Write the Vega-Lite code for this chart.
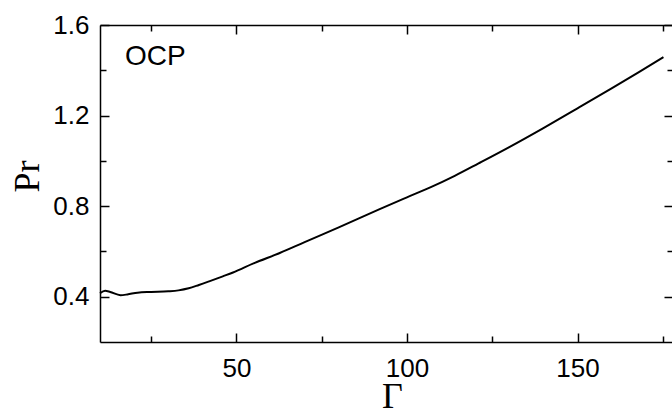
{
  "$schema": "https://vega.github.io/schema/vega-lite/v6.json",
  "autosize": "none",
  "width": 573,
  "height": 317,
  "padding": {"left": 100, "top": 25, "right": 0, "bottom": 67},
  "background": "white",
  "config": {
    "view": {"stroke": null},
    "axis": {"grid": false, "domainColor": "black", "domainWidth": 1.5, "tickColor": "black", "tickWidth": 1.5, "labelFont": "Liberation Sans", "labelFontSize": 26, "labelColor": "black", "titleColor": "black"}
  },
  "datasets": {
    "curve": [
      {"g": 10, "pr": 0.415},
      {"g": 11.5, "pr": 0.426},
      {"g": 13, "pr": 0.421},
      {"g": 16, "pr": 0.407},
      {"g": 18, "pr": 0.41},
      {"g": 21, "pr": 0.418},
      {"g": 25, "pr": 0.421},
      {"g": 30, "pr": 0.424},
      {"g": 33, "pr": 0.428},
      {"g": 36, "pr": 0.437},
      {"g": 39, "pr": 0.452},
      {"g": 42, "pr": 0.468},
      {"g": 46, "pr": 0.49},
      {"g": 49, "pr": 0.507},
      {"g": 55, "pr": 0.547},
      {"g": 62.7, "pr": 0.593},
      {"g": 70, "pr": 0.641},
      {"g": 80, "pr": 0.706},
      {"g": 92, "pr": 0.787},
      {"g": 100, "pr": 0.839},
      {"g": 107, "pr": 0.884},
      {"g": 114, "pr": 0.934},
      {"g": 121, "pr": 0.989},
      {"g": 130, "pr": 1.061},
      {"g": 140, "pr": 1.145},
      {"g": 150, "pr": 1.232},
      {"g": 160, "pr": 1.32},
      {"g": 168, "pr": 1.392},
      {"g": 175.2, "pr": 1.458}
    ],
    "label": [{"g": 17.3, "pr": 1.457, "text": "OCP"}]
  },
  "layer": [
    {
      "data": {"name": "curve"},
      "mark": {"type": "line", "color": "black", "strokeWidth": 2, "interpolate": "monotone"},
      "encoding": {
        "x": {"field": "g", "type": "quantitative", "scale": {"domain": [10, 178], "nice": false, "zero": false},
          "axis": {"orient": "bottom", "values": [25, 50, 75, 100, 125, 150, 175],
            "tickSize": {"condition": {"test": "datum.value % 50 == 0", "value": -9}, "value": -6},
            "labelExpr": "datum.value % 50 == 0 ? datum.label : ''",
            "labelPadding": 22, "labelFlush": false,
            "title": "Γ", "titleFont": "Liberation Serif", "titleFontSize": 36, "titleFontWeight": "normal",
            "titleX": 292, "titleY": 65, "titleBaseline": "alphabetic", "titleAlign": "center"}},
        "y": {"field": "pr", "type": "quantitative", "scale": {"domain": [0.2, 1.6], "nice": false, "zero": false},
          "axis": {"orient": "left", "values": [0.4, 0.6, 0.8, 1.0, 1.2, 1.4, 1.6],
            "tickSize": {"condition": {"test": "indexof([0.4,0.8,1.2,1.6], datum.value) >= 0", "value": -9}, "value": -6},
            "labelExpr": "indexof([0.4,0.8,1.2,1.6], datum.value) >= 0 ? format(datum.value, '.1f') : ''",
            "labelPadding": 20, "labelFlush": false,
            "title": "Pr", "titleFont": "Liberation Serif", "titleFontSize": 36, "titleFontWeight": "normal",
            "titleX": -73, "titleY": 151, "titleAngle": -90, "titleAlign": "center", "titleBaseline": "middle"}}
      }
    },
    {
      "data": {"name": "label"},
      "mark": {"type": "text", "align": "left", "baseline": "middle", "font": "Liberation Sans", "fontSize": 28, "color": "black"},
      "encoding": {
        "x": {"field": "g", "type": "quantitative",
          "axis": {"orient": "top", "values": [25, 50, 75, 100, 125, 150, 175],
            "tickSize": {"condition": {"test": "datum.value % 50 == 0", "value": -9}, "value": -6},
            "labels": false, "title": null}},
        "y": {"field": "pr", "type": "quantitative",
          "axis": {"orient": "right", "values": [0.4, 0.6, 0.8, 1.0, 1.2, 1.4, 1.6],
            "tickSize": {"condition": {"test": "indexof([0.4,0.8,1.2,1.6], datum.value) >= 0", "value": -9}, "value": -6},
            "labels": false, "title": null}},
        "text": {"field": "text", "type": "nominal"}
      }
    }
  ],
  "resolve": {"axis": {"x": "independent", "y": "independent"}}
}
